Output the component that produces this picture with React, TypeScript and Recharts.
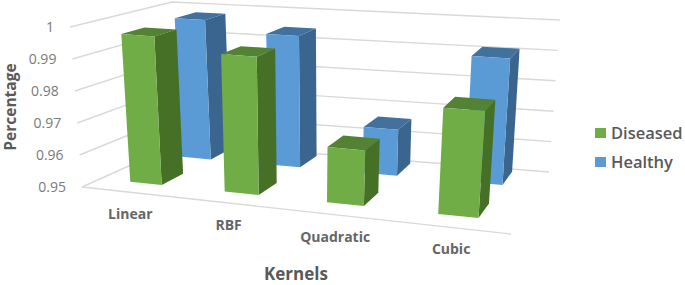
import React from 'react';
import { BarChart, Bar, XAxis, YAxis, CartesianGrid, Legend, Label } from 'recharts';

const categories = ['Linear', 'RBF', 'Quadratic', 'Cubic'];
const diseased = [0.997, 0.993, 0.967, 0.982];
const healthy = [0.9972, 0.9937, 0.965, 0.9905];
const yTicks = [0.95, 0.96, 0.97, 0.98, 0.99, 1];

const rows = categories.map((name, i) => ({ name, Diseased: diseased[i], Healthy: healthy[i] }));

// Invisible plot rectangle: the library's scales work here and every result is projected to the 3-D box.
const PLOT = { left: 80, top: 10, width: 480, height: 200 };
const CHART = { width: 685, height: 285 };

// Corners of the 3-D box in the picture: [bottom, top], front/back, left/right.
const BOX = {
  fbl: [82, 187], fbr: [511, 234], bbl: [180, 143], bbr: [549, 172],
  ftl: [70, 27], ftr: [524, 62], btl: [172, 2], btr: [560, 20],
};
const PERSPECTIVE = 1.18;
const warp = (u: number) => u / (u + PERSPECTIVE * (1 - u));
const lerp = (a: number, b: number, t: number) => a + (b - a) * t;

function project(uRaw: number, d: number, v: number): [number, number] {
  const u = warp(uRaw);
  const at = (i: number) =>
    lerp(
      lerp(lerp(BOX.fbl[i], BOX.fbr[i], u), lerp(BOX.bbl[i], BOX.bbr[i], u), d),
      lerp(lerp(BOX.ftl[i], BOX.ftr[i], u), lerp(BOX.btl[i], BOX.btr[i], u), d),
      v,
    );
  return [at(0), at(1)];
}
const toU = (x: number) => (x - PLOT.left) / PLOT.width;
const toV = (y: number) => 1 - (y - PLOT.top) / PLOT.height;
const pts = (list: [number, number][]) => list.map((p) => `${p[0].toFixed(1)},${p[1].toFixed(1)}`).join(' ');

type Look = { front: string; side: string; top: string; d0: number; d1: number; shift: number };
const LOOK_DISEASED: Look = { front: '#70AD47', side: '#477027', top: '#548235', d0: 0.19, d1: 0.43, shift: -0.5 };
const LOOK_HEALTHY: Look = { front: '#5B9BD5', side: '#3A658F', top: '#41719C', d0: 0.74, d1: 0.96, shift: 0.5 };

const box3d = (look: Look) => (props: any) => {
  const { x, y, width, height } = props;
  const u0 = toU(x + look.shift * width);
  const u1 = toU(x + look.shift * width + width);
  const v1 = toV(y);
  const v0 = toV(y + height);
  const { d0, d1 } = look;
  return (
    <g>
      <polygon fill={look.top} points={pts([project(u0, d0, v1), project(u1, d0, v1), project(u1, d1, v1), project(u0, d1, v1)])} />
      <polygon fill={look.side} points={pts([project(u1, d0, v0), project(u1, d1, v0), project(u1, d1, v1), project(u1, d0, v1)])} />
      <polygon fill={look.front} points={pts([project(u0, d0, v0), project(u1, d0, v0), project(u1, d0, v1), project(u0, d0, v1)])} />
    </g>
  );
};

const gridLine = (props: any) => {
  const v = toV(props.y1);
  const line = [project(0, 0, v), project(0, 1, v), project(1, 1, v)];
  return (
    <g key={props.key ?? props.y1}>
      <polyline points={pts(line)} fill="none" stroke="#D9D9D9" strokeWidth={1.4} />
      {Math.abs(v) < 0.001 && (
        <polyline points={pts([project(0, 0, 0), project(1, 0, 0)])} fill="none" stroke="#D9D9D9" strokeWidth={1.4} />
      )}
    </g>
  );
};

const FONT = '"Open Sans", sans-serif';

const YTick = (props: any) => {
  const v = toV(props.y);
  const [px, py] = project(0, 0, v);
  return (
    <text x={px - 16} y={py + 5} textAnchor="end" fontFamily={FONT} fontSize={14} fill="#7A7A7A">
      {String(props.payload.value)}
    </text>
  );
};

const XTick = (props: any) => {
  const [px, py] = project(toU(props.x), 0, 0);
  return (
    <text x={px + 2} y={py + 27} textAnchor="middle" fontFamily={FONT} fontSize={14} fontWeight={700} fill="#666666">
      {props.payload.value}
    </text>
  );
};

const LegendBody = (props: any) => (
  <div>
    {props.payload.map((it: any) => (
      <div key={it.value} style={{ display: 'flex', alignItems: 'center', height: 29, fontFamily: FONT, fontSize: 16.5, fontWeight: 600, color: '#595959' }}>
        <span style={{ display: 'inline-block', width: 11, height: 10, background: it.color, marginRight: 5 }} />
        {it.value}
      </div>
    ))}
  </div>
);

const xTitle = () => (
  <text x={296} y={280} textAnchor="middle" fontFamily={FONT} fontSize={17} fontWeight={700} fill="#595959">Kernels</text>
);
const yTitle = () => (
  <text transform="translate(16,107) rotate(-90)" textAnchor="middle" fontFamily={FONT} fontSize={15.5} fontWeight={700} fill="#595959">Percentage</text>
);

export default function App() {
  return (
    <div style={{ position: 'absolute', left: 0, top: 0 }}>
      <BarChart
        width={CHART.width}
        height={CHART.height}
        data={rows}
        barGap={0}
        barCategoryGap="16%"
        margin={{ left: PLOT.left - 1, top: PLOT.top, right: CHART.width - PLOT.left - PLOT.width, bottom: CHART.height - PLOT.top - PLOT.height - 1 }}
      >
        <CartesianGrid vertical={false} horizontal={gridLine} syncWithTicks />
        <XAxis dataKey="name" height={1} axisLine={false} tickLine={false} tick={XTick} interval={0}>
          <Label content={xTitle} />
        </XAxis>
        <YAxis domain={[0.95, 1]} ticks={yTicks} width={1} axisLine={false} tickLine={false} tick={YTick} interval={0}>
          <Label content={yTitle} />
        </YAxis>
        <Legend layout="horizontal" verticalAlign="middle" align="center" content={LegendBody} wrapperStyle={{ left: 595, top: 118, width: 90 }} />
        <Bar dataKey="Healthy" fill="#5B9BD5" shape={box3d(LOOK_HEALTHY)} isAnimationActive={false} />
        <Bar dataKey="Diseased" fill="#70AD47" shape={box3d(LOOK_DISEASED)} isAnimationActive={false} />
      </BarChart>
    </div>
  );
}
